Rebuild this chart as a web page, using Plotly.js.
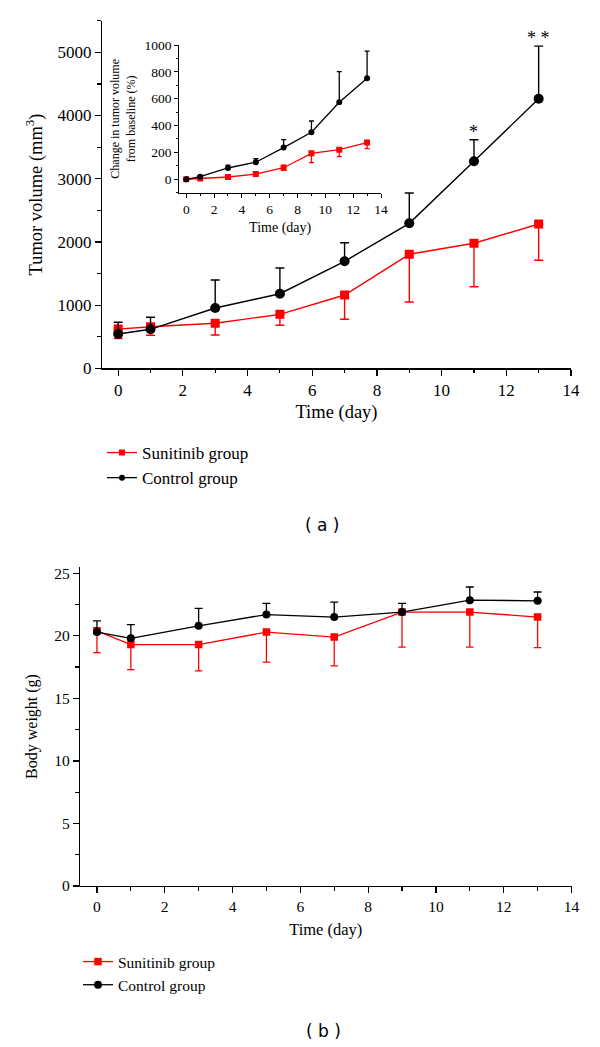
<!DOCTYPE html>
<html><head><meta charset="utf-8">
<script src="https://cdn.plot.ly/plotly-3.0.1.min.js"></script>
<style>html,body{margin:0;padding:0;background:#fff}</style>
</head><body><div id="chart" style="width:600px;height:1047px"></div>
<script>
// ---- data ----
const days = [0, 1, 3, 5, 7, 9, 11, 13];
const seriesNames = ['Sunitinib group', 'Control group'];
// (a) tumor volume (mm^3), error shown one-sided
const volSun = [620, 658, 712, 854, 1160, 1804, 1978, 2283];
const volSunErr = [150, 135, 185, 174, 385, 755, 687, 574];
const volCtrl = [543, 617, 954, 1180, 1693, 2294, 3275, 4266];
const volCtrlErr = [185, 190, 443, 407, 294, 480, 342, 832];
const signif = ['', '', '', '', '', '', '*', '* *'];
// inset: change from baseline (%)
const pctSun = [0, 5, 17, 39, 86, 193, 220, 273];
const pctSunErrUp = [0, 0, 3, 5, 20, 13, 8, 7];
const pctSunErrDown = [0, 0, 3, 5, 20, 69, 52, 45];
const pctCtrl = [0, 19, 84, 127, 236, 350, 573, 752];
const pctCtrlErr = [0, 4, 22, 26, 60, 84, 228, 203];
// (b) body weight (g)
const bwSun = [20.4, 19.3, 19.3, 20.3, 19.9, 21.9, 21.9, 21.5];
const bwSunErr = [1.75, 2.0, 2.1, 2.4, 2.3, 2.8, 2.8, 2.45];
const bwCtrl = [20.3, 19.8, 20.8, 21.7, 21.5, 21.9, 22.85, 22.8];
const bwCtrlErr = [0.9, 1.1, 1.4, 0.9, 1.2, 0.7, 1.05, 0.7];

const RED = '#ff0000', BLACK = '#000000';
const serif = '"Liberation Serif", "Times New Roman", serif';
const zeros = days.map(() => 0);

function series(x, y, name, color, symbol, size, lw, errUp, errDown, capW, xa, ya, legend, show) {
  return {
    type: 'scatter', mode: 'lines+markers', x: x, y: y, name: name,
    xaxis: xa, yaxis: ya, legend: legend, showlegend: show,
    line: {color: color, width: lw},
    marker: {color: color, symbol: symbol, size: size},
    error_y: {type: 'data', symmetric: false, array: errUp, arrayminus: errDown,
              color: color, thickness: lw, width: capW, visible: true},
    hoverinfo: 'x+y'
  };
}

const traces = [
  series(days, volSun, seriesNames[0], RED, 'square', 9, 1.4, zeros, volSunErr, 4.5, 'x', 'y', 'legend', false),
  series(days, volCtrl, seriesNames[1], BLACK, 'circle', 10, 1.4, volCtrlErr, zeros, 4.5, 'x', 'y', 'legend', false),
  series(days, pctSun, seriesNames[0], RED, 'square', 6, 1.3, pctSunErrUp, pctSunErrDown, 2.5, 'x2', 'y2', 'legend', true),
  series(days, pctCtrl, seriesNames[1], BLACK, 'circle', 6, 1.3, pctCtrlErr, zeros, 2.5, 'x2', 'y2', 'legend', true),
  series(days, bwSun, seriesNames[0], RED, 'square', 7.5, 1.3, zeros, bwSunErr, 3.75, 'x3', 'y3', 'legend2', true),
  series(days, bwCtrl, seriesNames[1], BLACK, 'circle', 8, 1.3, bwCtrlErr, zeros, 4, 'x3', 'y3', 'legend2', true)
];

function ax(o) {
  const base = {
    showline: true, linecolor: BLACK, linewidth: 1.2, mirror: false,
    showgrid: false, zeroline: false,
    ticks: 'outside', ticklen: 6, tickwidth: 1.2, tickcolor: BLACK,
    tickfont: {family: serif, size: 17, color: BLACK},
    fixedrange: true
  };
  return Object.assign(base, o);
}

const W = 600, H = 1047;
const px = v => v / W, py = v => 1 - v / H;

const annotations = [];
days.forEach((d, i) => {
  if (signif[i]) {
    annotations.push({x: d, y: volCtrl[i] + volCtrlErr[i], xref: 'x', yref: 'y',
      text: signif[i], showarrow: false, yanchor: 'bottom', yshift: -4,
      font: {family: serif, size: 18, color: BLACK}});
  }
});
annotations.push({x: px(322), y: py(525), xref: 'paper', yref: 'paper', text: '( a )',
  showarrow: false, xanchor: 'center', yanchor: 'middle',
  font: {family: '"DejaVu Sans", sans-serif', size: 17, color: BLACK}});
annotations.push({x: px(323), y: py(1031), xref: 'paper', yref: 'paper', text: '( b )',
  showarrow: false, xanchor: 'center', yanchor: 'middle',
  font: {family: '"DejaVu Sans", sans-serif', size: 17, color: BLACK}});

const layout = {
  width: W, height: H, autosize: false,
  margin: {l: 0, r: 0, t: 0, b: 0, pad: 0},
  paper_bgcolor: '#fff', plot_bgcolor: 'rgba(0,0,0,0)',
  font: {family: serif, color: BLACK},
  xaxis: ax({domain: [px(102), px(571)], anchor: 'y', range: [-0.5, 14], tick0: 0, dtick: 2,
    minor: {ticks: 'outside', dtick: 1, tick0: 0, ticklen: 3.5, tickwidth: 1.2, tickcolor: BLACK},
    title: {text: 'Time (day)', font: {family: serif, size: 18.5}, standoff: 6}}),
  yaxis: ax({domain: [py(368.3), py(20.7)], anchor: 'x', range: [0, 5500], tick0: 0, dtick: 1000,
    minor: {ticks: 'outside', dtick: 500, tick0: 0, ticklen: 3.5, tickwidth: 1.2, tickcolor: BLACK},
    title: {text: 'Tumor volume (mm<sup>3</sup>)', font: {family: serif, size: 18.5}, standoff: 10}}),
  xaxis2: ax({domain: [px(179.3), px(381)], anchor: 'y2', range: [-0.5, 14], tick0: 0, dtick: 2,
    ticklen: 4, tickwidth: 1, linewidth: 1,
    tickfont: {family: serif, size: 13.5},
    minor: {ticks: 'outside', dtick: 1, tick0: 0, ticklen: 2.5, tickwidth: 1, tickcolor: BLACK},
    title: {text: 'Time (day)', font: {family: serif, size: 14}, standoff: 6}}),
  yaxis2: ax({domain: [py(192.7), py(45)], anchor: 'x2', range: [-100, 1000], tick0: 0, dtick: 200,
    ticklen: 4, tickwidth: 1, linewidth: 1,
    tickfont: {family: serif, size: 13.5},
    minor: {ticks: 'outside', dtick: 100, tick0: 0, ticklen: 2.5, tickwidth: 1, tickcolor: BLACK},
    title: {text: 'Change in tumor volume<br>from baseline (%)', font: {family: serif, size: 12}, standoff: 6}}),
  xaxis3: ax({domain: [px(80), px(571.5)], anchor: 'y3', range: [-0.5, 14], tick0: 0, dtick: 2,
    tickfont: {family: serif, size: 15.5},
    minor: {ticks: 'outside', dtick: 1, tick0: 0, ticklen: 3.5, tickwidth: 1.2, tickcolor: BLACK},
    title: {text: 'Time (day)', font: {family: serif, size: 16.5}, standoff: 9}}),
  yaxis3: ax({domain: [py(886), py(567)], anchor: 'x3', range: [0, 25.5], tick0: 0, dtick: 5,
    tickfont: {family: serif, size: 15.5},
    minor: {ticks: 'outside', dtick: 2.5, tick0: 0, ticklen: 3.5, tickwidth: 1.2, tickcolor: BLACK},
    title: {text: 'Body weight (g)', font: {family: serif, size: 16}, standoff: 12}}),
  legend: {x: px(102), y: py(435), xanchor: 'left', yanchor: 'top', bgcolor: 'rgba(0,0,0,0)',
    font: {family: serif, size: 17, color: BLACK}, tracegroupgap: 0, itemclick: false},
  legend2: {x: px(78), y: py(945), xanchor: 'left', yanchor: 'top', bgcolor: 'rgba(0,0,0,0)',
    font: {family: serif, size: 15.5, color: BLACK}, tracegroupgap: 0, itemclick: false},
  annotations: annotations,
  showlegend: true
};

Plotly.newPlot('chart', traces, layout, {displayModeBar: false, staticPlot: true});
</script>
</body></html>
